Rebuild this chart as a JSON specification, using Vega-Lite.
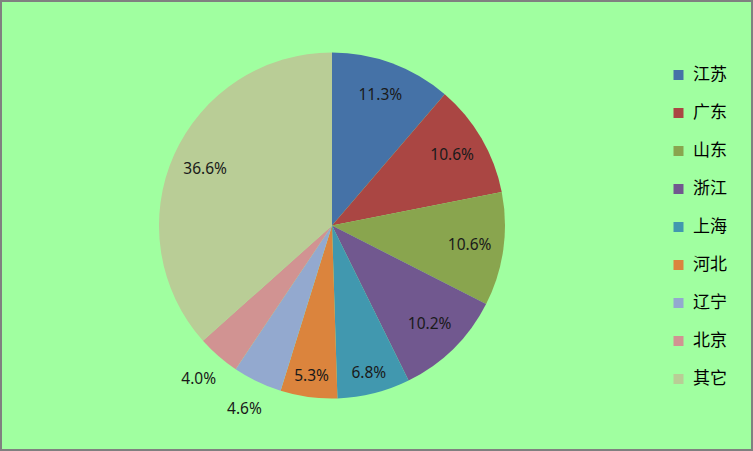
{
  "$schema": "https://vega.github.io/schema/vega-lite/v6.json",
  "width": 753,
  "height": 451,
  "autosize": "none",
  "padding": 0,
  "background": "#A0FFA0",
  "config": {
    "view": {"stroke": "#808080", "strokeWidth": 4, "fill": "#A0FFA0"}
  },
  "data": {
    "values": [
      {"region": "江苏", "pct": 11.3},
      {"region": "广东", "pct": 10.6},
      {"region": "山东", "pct": 10.6},
      {"region": "浙江", "pct": 10.2},
      {"region": "上海", "pct": 6.8},
      {"region": "河北", "pct": 5.3},
      {"region": "辽宁", "pct": 4.6},
      {"region": "北京", "pct": 4.0},
      {"region": "其它", "pct": 36.6}
    ]
  },
  "transform": [
    {"window": [{"op": "row_number", "as": "idx"}]},
    {"stack": "pct", "groupby": [], "sort": [{"field": "idx", "order": "ascending"}], "as": ["p0", "p1"]},
    {"calculate": "(datum.p0 + datum.p1) / 2", "as": "pmid"},
    {"calculate": "format(datum.pct, '.1f') + '%'", "as": "label"}
  ],
  "encoding": {
    "x": {"datum": 0.4409, "type": "quantitative", "scale": {"domain": [0, 1]}, "axis": null},
    "y": {"datum": 0.5, "type": "quantitative", "scale": {"domain": [0, 1]}, "axis": null}
  },
  "layer": [
    {
      "mark": {"type": "arc", "outerRadius": 173, "stroke": null},
      "encoding": {
        "theta": {"field": "p0", "type": "quantitative", "scale": {"domain": [0, 100]}},
        "theta2": {"field": "p1"},
        "color": {
          "field": "region",
          "type": "nominal",
          "sort": ["江苏", "广东", "山东", "浙江", "上海", "河北", "辽宁", "北京", "其它"],
          "scale": {
            "domain": ["江苏", "广东", "山东", "浙江", "上海", "河北", "辽宁", "北京", "其它"],
            "range": ["#4572A7", "#AA4643", "#89A54E", "#71588F", "#4198AF", "#DB843D", "#93A9CF", "#D19392", "#B9CD96"]
          },
          "legend": {
            "title": null,
            "orient": "none",
            "legendX": 670,
            "legendY": 56,
            "symbolType": "square",
            "symbolSize": 100,
            "symbolStrokeWidth": 0,
            "labelFont": "Noto Sans CJK SC",
            "labelFontSize": 17,
            "labelColor": "#000000",
            "labelOffset": 6,
            "clipHeight": 38,
            "rowPadding": 0,
            "padding": 0
          }
        }
      }
    },
    {
      "transform": [{"filter": "datum.pct > 7"}],
      "mark": {"type": "text", "radius": 139, "font": "Noto Sans", "fontSize": 15.5, "fill": "#1a1a1a"},
      "encoding": {
        "theta": {"field": "pmid", "type": "quantitative", "scale": {"domain": [0, 100]}},
        "text": {"field": "label"}
      }
    },
    {
      "transform": [{"filter": "datum.pct > 5 && datum.pct < 7"}],
      "mark": {"type": "text", "radius": 152, "font": "Noto Sans", "fontSize": 15.5, "fill": "#1a1a1a"},
      "encoding": {
        "theta": {"field": "pmid", "type": "quantitative", "scale": {"domain": [0, 100]}},
        "text": {"field": "label"}
      }
    },
    {
      "transform": [{"filter": "datum.pct < 5"}],
      "mark": {"type": "text", "radius": 203, "font": "Noto Sans", "fontSize": 15.5, "fill": "#1a1a1a"},
      "encoding": {
        "theta": {"field": "pmid", "type": "quantitative", "scale": {"domain": [0, 100]}},
        "text": {"field": "label"}
      }
    }
  ]
}
